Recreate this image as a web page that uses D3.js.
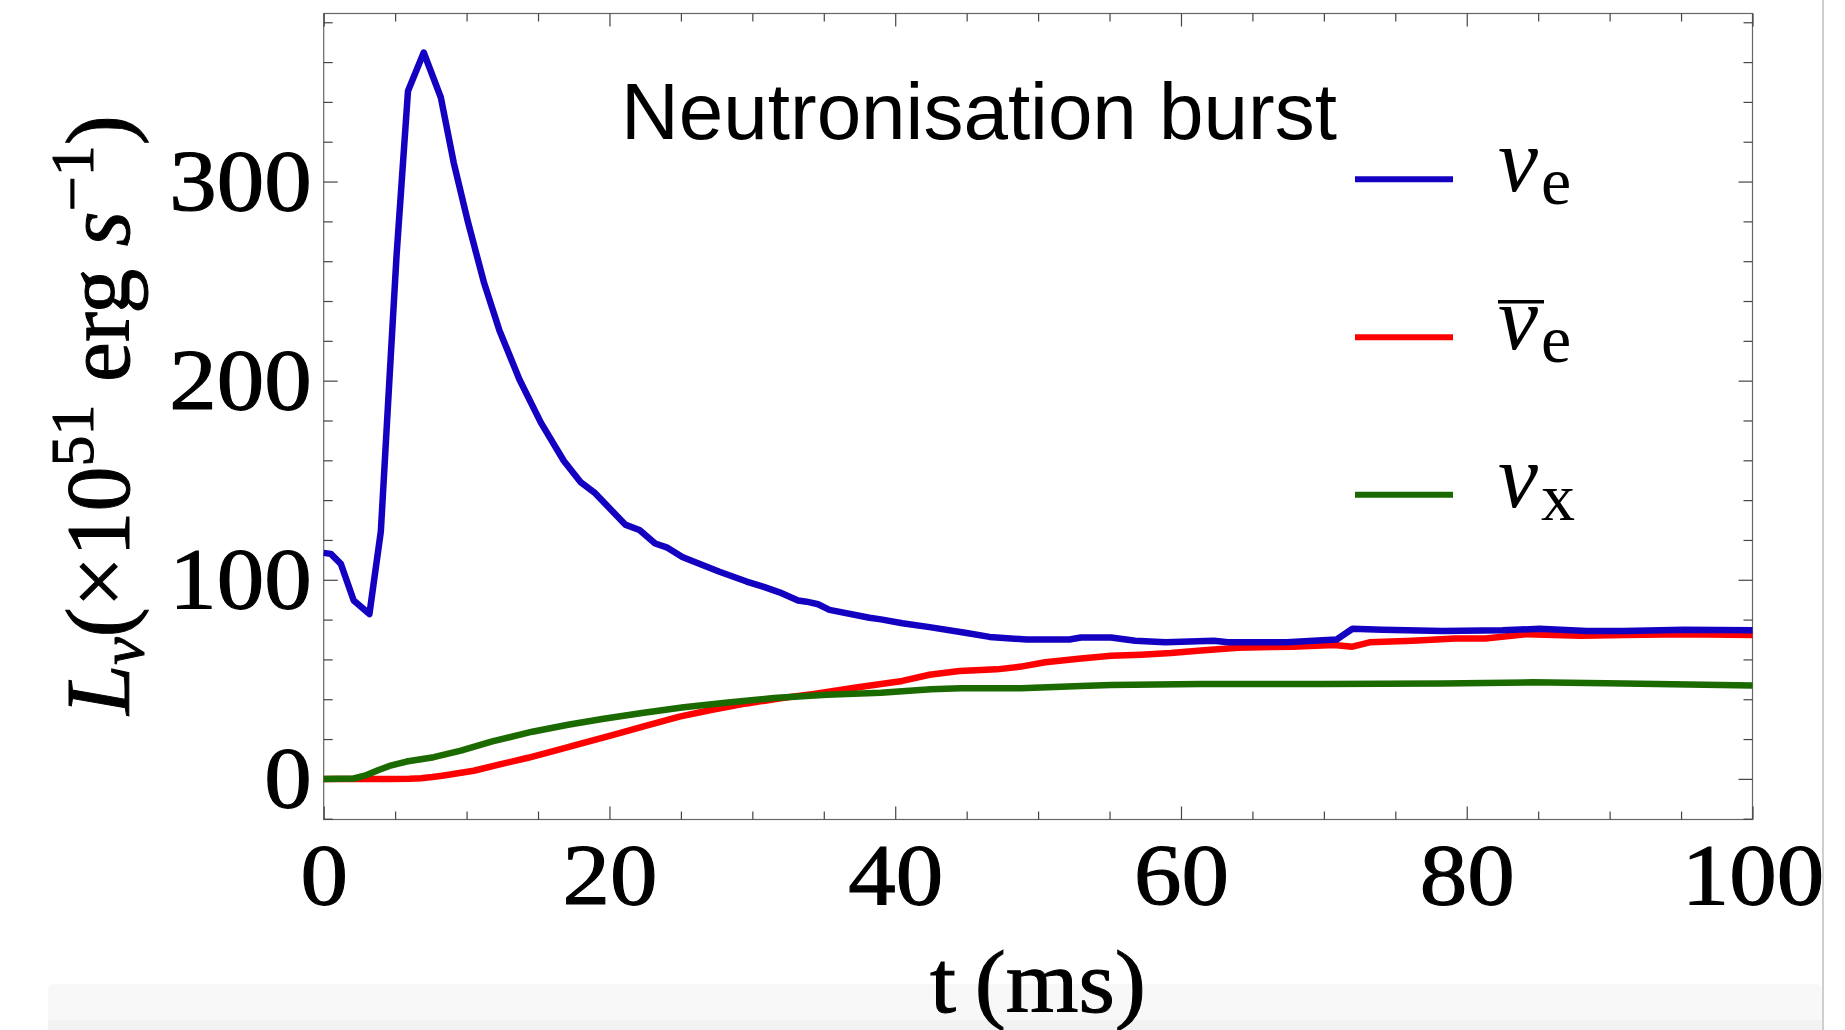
<!DOCTYPE html>
<html>
<head>
<meta charset="utf-8">
<script src="https://cdn.jsdelivr.net/npm/d3@7"></script>
<style>
  body { margin: 0; background: #fff; }
  svg { display: block; }
</style>
</head>
<body>
<div id="chart"></div>
<script>
// luminosity of each flavour vs time (ms)

const tNuE = [0, 0.5, 1.2, 2.1, 3.2, 4.0, 4.6, 5.1, 5.9, 7.0, 8.2, 9.1, 10.1, 11.2, 12.3, 13.7, 15.2, 16.8, 18.0, 19.0, 21.1, 22.1, 23.2, 24.0, 25.1, 25.8, 27.7, 29.6, 30.8, 31.9, 33.2, 33.8, 34.6, 35.4, 38.2, 39.0, 40.5, 42.4, 45.0, 46.6, 49.2, 52.2, 53.0, 55.1, 56.8, 58.9, 62.3, 63.3, 67.4, 69.9, 70.9, 72.0, 74.1, 78.3, 82.5, 85.1, 88.4, 91.0, 95.2, 100];
const lNuE = [113.5, 113, 108, 89.6, 82.8, 124.4, 200.6, 263, 345.5, 364.8, 342.2, 309.5, 279.6, 249.7, 225.2, 200.6, 178.9, 159.8, 148.9, 143.5, 127.7, 125, 118.2, 116.3, 111.4, 109.4, 104, 99.1, 96.4, 93.7, 89.6, 89, 87.7, 84.9, 80.9, 80.1, 78.2, 76.2, 73.3, 71.3, 70, 70, 71, 71, 69.4, 68.6, 69.4, 68.6, 68.6, 69.6, 70, 75.4, 74.9, 74.3, 74.6, 75.4, 74.3, 74.3, 74.9, 74.6];

const tNuEBar = [0, 2.4, 4.6, 6.0, 6.8, 7.6, 8.3, 9.4, 10.5, 12.4, 14.3, 16.2, 18.0, 20.2, 22.4, 24.9, 27.1, 29.6, 32.1, 34.3, 37.4, 40.5, 42.4, 44.5, 47.1, 48.8, 50.5, 53.0, 55.1, 57.2, 59.3, 61.4, 64.0, 67.8, 70.7, 72.0, 73.2, 76.2, 79.2, 81.3, 84.2, 88.0, 91.0, 95.2, 100];
const lNuEBar = [0, 0, 0, 0.1, 0.3, 0.9, 1.6, 2.8, 4.1, 7.4, 10.6, 14.2, 17.7, 22, 26.4, 31.3, 34.6, 37.9, 40.6, 42.7, 46, 49.2, 52.3, 54.2, 55, 56.4, 58.6, 60.5, 61.8, 62.4, 63.2, 64.5, 65.9, 66.4, 67.2, 66.4, 68.6, 69.4, 70.5, 70.5, 72.7, 71.9, 72.2, 72.7, 72.2];

const tNuX = [0, 2.1, 3.0, 3.8, 4.6, 5.8, 7.7, 9.6, 11.8, 14.6, 17.1, 19.6, 22.4, 25.2, 28.3, 31.5, 35.2, 39.0, 42.5, 44.6, 48.8, 53.0, 55.1, 61.4, 69.9, 78.3, 84.6, 91.0, 100];
const lNuX = [0, 0.2, 1.9, 4.3, 6.5, 8.7, 10.9, 14.2, 18.8, 23.7, 27.2, 30.2, 33.2, 36, 38.4, 40.6, 42.2, 43.3, 45.0, 45.5, 45.5, 46.6, 47.1, 47.7, 47.7, 47.9, 48.5, 47.9, 46.9];

const xTicks = [0, 20, 40, 60, 80, 100];
const yTicks = [0, 100, 200, 300];

const width = 1845, height = 1030;
const plot = {left: 323.7, right: 1752.5, top: 13.5, bottom: 819.5};

const svg = d3.select("#chart").append("svg")
  .attr("width", width)
  .attr("height", height);

// screenshot leftovers: grey band at bottom and divider on the right
svg.append("rect").attr("x", 48).attr("y", 984).attr("width", 1774).attr("height", 50)
  .attr("rx", 6).attr("fill", "#f8f8f8");
svg.append("rect").attr("x", 48).attr("y", 1020).attr("width", 1774).attr("height", 12)
  .attr("fill", "#f2f2f2");
svg.append("line").attr("x1", 1823).attr("x2", 1823).attr("y1", 0).attr("y2", height)
  .attr("stroke", "#cfcfcf").attr("stroke-width", 2);

let x = d3.scaleLinear().domain([0, 100]).range([plot.left, plot.right]);
let y = d3.scaleLinear().domain([-20.4, 384.4]).range([plot.bottom, plot.top]);

const serif = "'Liberation Serif', 'Times New Roman', serif";
const tickColor = "#444";

// frame
svg.append("rect")
  .attr("x", plot.left).attr("y", plot.top)
  .attr("width", plot.right - plot.left).attr("height", plot.bottom - plot.top)
  .attr("fill", "none").attr("stroke", "#666").attr("stroke-width", 1.2);

const xMinor = d3.range(0, 101, 5).filter(v => v % 20 != 0);
const yMinor = d3.range(-20, 385, 20).filter(v => v % 100 != 0);

function styleAxis(g) {
  g.select(".domain").remove();
  g.selectAll(".tick line").attr("stroke", tickColor).attr("stroke-width", 1.2);
}

// Mathematica's digits are a bit wider and heavier than Times
function styleLabels(g) {
  g.selectAll("text")
    .attr("font-family", serif).attr("font-size", 86).attr("fill", "#000")
    .attr("stroke", "#000").attr("stroke-width", 1.1)
    .attr("textLength", function() { return this.textContent.length * 47.5; })
    .attr("lengthAdjust", "spacingAndGlyphs");
}

// bottom axis with labels
svg.append("g")
  .attr("transform", `translate(0,${plot.bottom})`)
  .call(d3.axisBottom(x).tickValues(xTicks).tickSize(-13).tickPadding(23))
  .call(styleAxis)
  .call(styleLabels);
svg.append("g")
  .attr("transform", `translate(0,${plot.bottom})`)
  .call(d3.axisBottom(x).tickValues(xMinor).tickSize(-8).tickFormat(""))
  .call(styleAxis);
// top mirror ticks
svg.append("g")
  .attr("transform", `translate(0,${plot.top})`)
  .call(d3.axisTop(x).tickValues(xTicks).tickSize(-13).tickFormat(""))
  .call(styleAxis);
svg.append("g")
  .attr("transform", `translate(0,${plot.top})`)
  .call(d3.axisTop(x).tickValues(xMinor).tickSize(-8).tickFormat(""))
  .call(styleAxis);

// left axis with labels
svg.append("g")
  .attr("transform", `translate(${plot.left},0)`)
  .call(d3.axisLeft(y).tickValues(yTicks).tickSize(-14).tickPadding(12))
  .call(styleAxis)
  .call(styleLabels);
svg.append("g")
  .attr("transform", `translate(${plot.left},0)`)
  .call(d3.axisLeft(y).tickValues(yMinor).tickSize(-9).tickFormat(""))
  .call(styleAxis);
// right mirror ticks
svg.append("g")
  .attr("transform", `translate(${plot.right},0)`)
  .call(d3.axisRight(y).tickValues(yTicks).tickSize(-14).tickFormat(""))
  .call(styleAxis);
svg.append("g")
  .attr("transform", `translate(${plot.right},0)`)
  .call(d3.axisRight(y).tickValues(yMinor).tickSize(-9).tickFormat(""))
  .call(styleAxis);

// curves
const series = [
  {t: tNuEBar, l: lNuEBar, color: "#ff0000"},
  {t: tNuX, l: lNuX, color: "#1a6a00"},
  {t: tNuE, l: lNuE, color: "#1400c0"}
];

const line = d3.line()
  .x(d => x(d[0]))
  .y(d => y(d[1]));

svg.selectAll(".curve")
  .data(series)
  .enter()
  .append("path")
    .attr("class", "curve")
    .attr("d", s => line(s.t.map((t, i) => [t, s.l[i]])))
    .attr("fill", "none")
    .attr("stroke", s => s.color)
    .attr("stroke-width", 6.5)
    .attr("stroke-linejoin", "round");

// title
svg.append("text")
  .attr("x", 621).attr("y", 138.5)
  .attr("font-family", "'Liberation Sans', Arial, sans-serif")
  .attr("font-size", 80)
  .attr("fill", "#000")
  .text("Neutronisation burst");

// legend
const legend = [
  {sub: "e", bar: false, color: "#1400c0", y: 179.3},
  {sub: "e", bar: true, color: "#ff0000", y: 337.3},
  {sub: "x", bar: false, color: "#1a6a00", y: 494.7}
];
legend.forEach(d => {
  svg.append("line")
    .attr("x1", 1355).attr("x2", 1453).attr("y1", d.y).attr("y2", d.y)
    .attr("stroke", d.color).attr("stroke-width", 6);
  let txt = svg.append("text")
    .attr("x", 1498).attr("y", d.y + 12)
    .attr("font-family", serif).attr("font-size", 90).attr("fill", "#000");
  txt.append("tspan").attr("font-style", "italic").text("ν");
  txt.append("tspan").attr("font-size", 68).attr("dy", 13).attr("dx", 3).text(d.sub);
  if (d.bar) {
    svg.append("line")
      .attr("x1", 1498).attr("x2", 1544).attr("y1", d.y - 35.5).attr("y2", d.y - 35.5)
      .attr("stroke", "#000").attr("stroke-width", 3.5);
  }
});

// axis titles
svg.append("text")
  .attr("x", 1038).attr("y", 1012)
  .attr("text-anchor", "middle")
  .attr("font-family", serif).attr("font-size", 88).attr("fill", "#000")
  .attr("stroke", "#000").attr("stroke-width", 1)
  .attr("textLength", 216).attr("lengthAdjust", "spacingAndGlyphs")
  .text("t\u2009(ms)");

let yTitle = svg.append("text")
  .attr("transform", "translate(129,415) rotate(-90)")
  .attr("text-anchor", "middle")
  .attr("font-family", serif).attr("font-size", 90).attr("fill", "#000")
  .attr("stroke", "#000").attr("stroke-width", 1);
yTitle.append("tspan").attr("font-style", "italic").text("L");
yTitle.append("tspan").attr("font-style", "italic").attr("font-size", 62).attr("dy", 14).text("ν");
yTitle.append("tspan").attr("dy", -14).text("(×10");
yTitle.append("tspan").attr("font-size", 62).attr("dy", -36).text("51");
yTitle.append("tspan").attr("dy", 36).text(" erg ");
yTitle.append("tspan").attr("font-style", "italic").text("s");
yTitle.append("tspan").attr("font-size", 62).attr("dy", -36).text("−1");
yTitle.append("tspan").attr("dy", 36).text(")");
</script>
</body>
</html>
